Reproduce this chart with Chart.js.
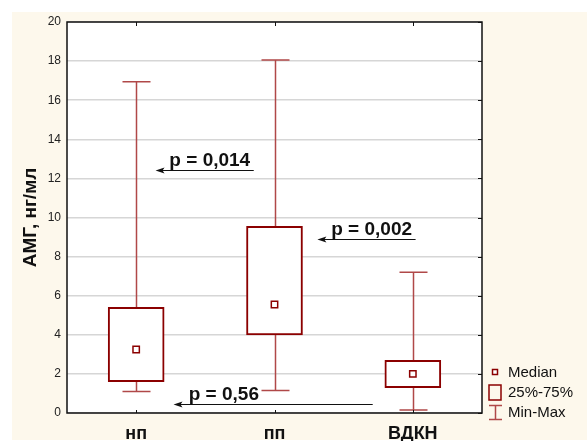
<!DOCTYPE html>
<html>
<head>
<meta charset="utf-8">
<script src="https://cdn.jsdelivr.net/npm/chart.js@4/dist/chart.umd.min.js"></script>
<style>
body{margin:0;background:#fff;}
canvas{display:block;}
</style>
</head>
<body>
<canvas id="chart" width="587" height="441"></canvas>
<script>
let groups=["нп","пп","ВДКН"];
let minVals=[1.1,1.15,0.15];
let q1Vals=[1.6,4.0,1.3];
let medians=[3.25,5.55,2.0];
let q3Vals=[5.4,9.55,2.7];
let maxVals=[16.95,18.05,7.2];

// p-value arrows (x in category units, y in value units)
let pTexts=["p = 0,014","p = 0,002","p = 0,56"];
let arrowTip=[0.14,1.31,0.27];
let arrowTail=[0.85,2.02,1.71];
let arrowLevel=[12.43,8.88,0.46];
let textStart=[0.24,1.41,0.38];

let boxColor="#8b0000";
let whiskerColor="#b04848";
let font="Arial, 'Liberation Sans', sans-serif";

function catX(xs,v){
    let a=xs.getPixelForValue(0), b=xs.getPixelForValue(1);
    return a+(b-a)*v;
}

let boxPlugin={
    id:"boxStuff",
    beforeDraw(chart){
        let ctx=chart.ctx, a=chart.chartArea;
        ctx.save();
        ctx.fillStyle="#fdf8ec";
        ctx.fillRect(12,12,575,428);
        ctx.fillStyle="#fff";
        ctx.fillRect(a.left,a.top,a.right-a.left,a.bottom-a.top);
        ctx.restore();
    },
    beforeDatasetsDraw(chart){
        let ctx=chart.ctx, xs=chart.scales.x, ys=chart.scales.y;
        ctx.save();
        ctx.strokeStyle=whiskerColor;
        ctx.lineWidth=1.5;
        groups.forEach((g,i)=>{
            let x=Math.round(xs.getPixelForValue(i))+0.5;
            let yMin=ys.getPixelForValue(minVals[i]), yMax=ys.getPixelForValue(maxVals[i]);
            ctx.beginPath();
            ctx.moveTo(x,yMin); ctx.lineTo(x,ys.getPixelForValue(q1Vals[i]));
            ctx.moveTo(x,ys.getPixelForValue(q3Vals[i])); ctx.lineTo(x,yMax);
            ctx.moveTo(x-14,yMin); ctx.lineTo(x+14,yMin);
            ctx.moveTo(x-14,yMax); ctx.lineTo(x+14,yMax);
            ctx.stroke();
        });
        ctx.restore();
    },
    afterDatasetsDraw(chart){
        let ctx=chart.ctx, a=chart.chartArea, xs=chart.scales.x, ys=chart.scales.y;
        ctx.save();
        // frame
        ctx.strokeStyle="#111";
        ctx.lineWidth=1.5;
        ctx.strokeRect(a.left,a.top,a.right-a.left,a.bottom-a.top);
        // small ticks
        ctx.lineWidth=1;
        ctx.beginPath();
        ys.ticks.forEach(t=>{
            let y=Math.round(ys.getPixelForValue(t.value))+0.5;
            ctx.moveTo(a.right,y); ctx.lineTo(a.right-4,y);
        });
        groups.forEach((g,i)=>{
            let x=Math.round(xs.getPixelForValue(i))+0.5;
            ctx.moveTo(x,a.top); ctx.lineTo(x,a.top+4);
            ctx.moveTo(x,a.bottom); ctx.lineTo(x,a.bottom-3);
        });
        ctx.stroke();

        // p-value arrows
        ctx.fillStyle="#111";
        ctx.strokeStyle="#111";
        pTexts.forEach((t,i)=>{
            let y=Math.round(ys.getPixelForValue(arrowLevel[i]))+0.5;
            let x1=catX(xs,arrowTip[i]), x2=catX(xs,arrowTail[i]);
            ctx.lineWidth=1;
            ctx.beginPath();
            ctx.moveTo(x1+6,y); ctx.lineTo(x2,y);
            ctx.stroke();
            ctx.beginPath();
            ctx.moveTo(x1,y); ctx.lineTo(x1+9,y-3); ctx.lineTo(x1+7,y); ctx.lineTo(x1+9,y+3);
            ctx.closePath();
            ctx.fill();
            ctx.font="bold 19px "+font;
            ctx.textAlign="left";
            ctx.textBaseline="alphabetic";
            ctx.fillText(t,catX(xs,textStart[i]),y-5);
        });

        // legend
        ctx.strokeStyle=boxColor;
        ctx.lineWidth=1.5;
        ctx.fillStyle="#fff";
        ctx.fillRect(492.5,369.5,5,5);
        ctx.strokeRect(492.5,369.5,5,5);
        ctx.strokeRect(489,385,12,15);
        ctx.strokeStyle=whiskerColor;
        ctx.beginPath();
        ctx.moveTo(495.5,405); ctx.lineTo(495.5,420);
        ctx.moveTo(489,405.5); ctx.lineTo(502,405.5);
        ctx.moveTo(489,419.5); ctx.lineTo(502,419.5);
        ctx.stroke();
        ctx.fillStyle="#111";
        ctx.font="15px "+font;
        ctx.textBaseline="middle";
        ctx.fillText("Median",508,373);
        ctx.fillText("25%-75%",508,393);
        ctx.fillText("Min-Max",508,413);
        ctx.restore();
    }
};

new Chart(document.getElementById("chart"),{
    type:"bar",
    data:{
        labels:groups,
        datasets:[{
            label:"25%-75%",
            data:groups.map((g,i)=>[q1Vals[i],q3Vals[i]]),
            backgroundColor:"#fff",
            borderColor:boxColor,
            borderWidth:2,
            borderSkipped:false,
            barThickness:56,
            order:2
        },{
            type:"line",
            label:"Median",
            data:medians,
            showLine:false,
            pointStyle:"rect",
            pointRadius:4.5,
            pointBorderWidth:1.5,
            pointBorderColor:boxColor,
            pointBackgroundColor:"#fff",
            order:1
        }]
    },
    options:{
        responsive:false,
        animation:false,
        layout:{padding:{left:0,top:22,right:105,bottom:0}},
        plugins:{legend:{display:false},tooltip:{enabled:false}},
        scales:{
            x:{
                grid:{display:false},
                border:{display:false},
                ticks:{color:"#111",padding:2,font:{family:font,size:18,weight:"bold"}},
                afterFit(s){s.height=28;}
            },
            y:{
                min:0,max:20,
                grid:{color:"#d6d6d6",lineWidth:1.5,drawTicks:false},
                border:{display:false},
                ticks:{stepSize:2,color:"#222",padding:6,font:{family:font,size:12}},
                title:{display:true,text:"АМГ, нг/мл",color:"#111",padding:{top:19,bottom:0},font:{family:font,size:19,weight:"bold"}},
                afterFit(s){s.width=67;}
            }
        }
    },
    plugins:[boxPlugin]
});
</script>
</body>
</html>
